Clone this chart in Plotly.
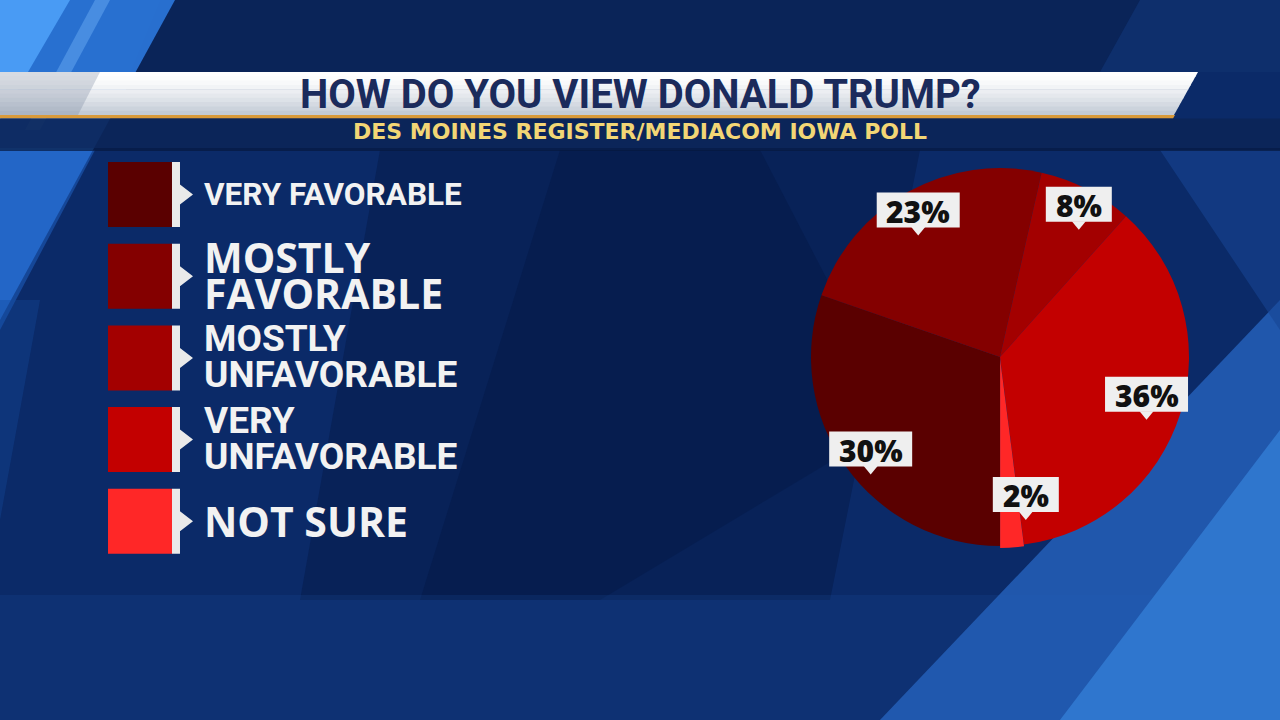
import math
import plotly.graph_objects as go

W, H = 1280, 720

# ---------------- data ----------------
title = "HOW DO YOU VIEW DONALD TRUMP?"
subtitle = "DES MOINES REGISTER/MEDIACOM IOWA POLL"
categories = ["VERY FAVORABLE", "MOSTLY<br>FAVORABLE", "MOSTLY<br>UNFAVORABLE",
              "VERY<br>UNFAVORABLE", "NOT SURE"]
values = [30, 23, 8, 36, 2]
colors = ["#5a0000", "#840000", "#a30000", "#c30000", "#ff2727"]

# ---------------- style ----------------
NARROW = "Roboto, sans-serif"
WIDE = "Open Sans, Roboto, sans-serif"
legend_font = [(NARROW, 31.5), (WIDE, 41), (NARROW, 37), (NARROW, 37), (WIDE, 41)]
label_rfrac = [0.84, 0.89, 0.91, 0.80, 0.74]
label_dang = [0, 0, 0, -3, -7]
PIE_CX, PIE_CY, PIE_R = 1000, 357, 189


def X(px):
    return px / W


def Y(py):
    return 1 - py / H


def poly(pts, color, opacity=1.0, layer="below"):
    path = "M " + " L ".join(f"{X(x):.5f},{Y(y):.5f}" for x, y in pts) + " Z"
    return dict(type="path", xref="paper", yref="paper", path=path,
                fillcolor=color, line=dict(width=0), opacity=opacity, layer=layer)


def ann(x, y, text, size, color, family, xanchor="left", yanchor="middle", weight="bold"):
    return dict(x=X(x), y=Y(y), xref="paper", yref="paper", text=text, showarrow=False,
                xanchor=xanchor, yanchor=yanchor,
                font=dict(size=size, color=color, family=family, weight=weight))


def lerp_color(c1, c2, t):
    a = [int(c1[i:i + 2], 16) for i in (1, 3, 5)]
    b = [int(c2[i:i + 2], 16) for i in (1, 3, 5)]
    return "#" + "".join(f"{round(a[k] + (b[k] - a[k]) * t):02x}" for k in range(3))


shapes = []
# ---- background ----
shapes.append(poly([(0, 0), (W, 0), (W, H), (0, H)], "#0b2a68"))
shapes.append(poly([(160, 0), (W, 0), (W, 72), (130, 72)], "#0a2356", 0.9))
shapes.append(poly([(1140, 0), (W, 0), (W, 72), (1100, 72)], "#123a80", 0.5))
shapes.append(poly([(380, 150), (920, 150), (830, 600), (300, 600)], "#051845", 0.45))
shapes.append(poly([(560, 150), (760, 150), (900, 420), (600, 600), (420, 600)], "#04143c", 0.3))
shapes.append(poly([(0, 0), (175, 0), (0, 320)], "#2a74d6", 0.95))
shapes.append(poly([(0, 0), (70, 0), (0, 120)], "#4da0f7", 0.9))
shapes.append(poly([(95, 0), (110, 0), (40, 130), (25, 130)], "#6fb2f7", 0.45))
shapes.append(poly([(0, 150), (95, 150), (0, 330)], "#1f5fc0", 0.55))
shapes.append(poly([(0, 300), (40, 300), (0, 520)], "#154a9e", 0.35))
shapes.append(poly([(0, 595), (W, 595), (W, H), (0, H)], "#1a4d9c", 0.22))
shapes.append(poly([(W, 300), (W, H), (880, H)], "#2563bd", 0.8))
shapes.append(poly([(W, 430), (W, H), (1060, H)], "#3480d8", 0.75))
shapes.append(poly([(1160, 150), (W, 150), (W, 330)], "#174493", 0.6))

# ---- banner ----
n_strips = 10
y0b, y1b = 72, 115
for i in range(n_strips):
    ya = y0b + (y1b - y0b) * i / n_strips
    yb = y0b + (y1b - y0b) * (i + 1) / n_strips + 0.6
    xa = 1198 - (ya - y0b) * 24 / 43
    xb = 1198 - (yb - y0b) * 24 / 43
    col = lerp_color("#ffffff", "#c3cbd6", (i / (n_strips - 1)) ** 1.4)
    shapes.append(poly([(0, ya), (xa, ya), (xb, yb), (0, yb)], col))
shapes.append(poly([(0, 72), (100, 72), (78, 115), (0, 115)], "#6f7f98", 0.28))
shapes.append(poly([(0, 115), (1175, 115), (1173, 118.5), (0, 118.5)], "#d99a3a"))
shapes.append(poly([(0, 118.5), (W, 118.5), (W, 148), (0, 148)], "#0b2558", 0.9))
shapes.append(poly([(0, 148), (W, 148), (W, 151), (0, 151)], "#06183f", 0.7))

annotations = []
annotations.append(ann(640, 95, title, 40, "#1b2b5c", NARROW, xanchor="center"))
annotations.append(ann(640, 131, subtitle, 22, "#f2d675", "DejaVu Sans, sans-serif",
                       xanchor="center", weight="bold"))

# ---- custom legend ----
row_top0, row_step, sw_h = 162, 81.7, 65
for i, (cat, col) in enumerate(zip(categories, colors)):
    top = row_top0 + i * row_step
    mid = top + sw_h / 2
    shapes.append(poly([(108, top), (172, top), (172, top + sw_h), (108, top + sw_h)], col))
    shapes.append(poly([(172, top), (180, top), (180, mid - 10), (193, mid), (180, mid + 10),
                        (180, top + sw_h), (172, top + sw_h)], "#eaeaea"))
    fam, size = legend_font[i]
    lines = cat.split("<br>")
    if len(lines) == 1:
        annotations.append(ann(202, mid, lines[0], size, "#f2f2f2", fam))
    else:
        annotations.append(ann(202, top + 13, lines[0], size, "#f2f2f2", fam))
        annotations.append(ann(202, top + 49, lines[1], size, "#f2f2f2", fam))

# ---- percentage callouts ----
total = sum(values)
start = 180.0
for i, v in enumerate(values):
    span = 360.0 * v / total
    midang = math.radians(start + span / 2 + label_dang[i])
    start += span
    r = PIE_R * label_rfrac[i]
    cx = PIE_CX + r * math.sin(midang)
    cy = PIE_CY - r * math.cos(midang)
    txt = f"{v}%"
    bw = 17 * len(txt) + 32
    bh = 35
    shapes.append(poly([(cx - bw / 2, cy - bh / 2), (cx + bw / 2, cy - bh / 2),
                        (cx + bw / 2, cy + bh / 2), (cx - bw / 2, cy + bh / 2)],
                       "#efefef", layer="above"))
    shapes.append(poly([(cx - 7, cy + bh / 2 - 0.5), (cx + 7, cy + bh / 2 - 0.5), (cx, cy + bh / 2 + 8)],
                       "#efefef", layer="above"))
    annotations.append(ann(cx, cy + 1, txt, 30, "#111111", WIDE, xanchor="center", weight=800))

pull = [0, 0, 0, 0, 0.01]
R_eff = PIE_R * (1 + max(pull))
fig = go.Figure(go.Pie(
    values=values,
    labels=[c.replace("<br>", " ") for c in categories],
    marker=dict(colors=colors, line=dict(width=0)),
    sort=False, direction="clockwise", rotation=180,
    textinfo="none", hoverinfo="label+value", pull=pull, showlegend=False,
    domain=dict(x=[X(PIE_CX - R_eff), X(PIE_CX + R_eff)],
                y=[Y(PIE_CY + R_eff), Y(PIE_CY - R_eff)]),
))
fig.update_layout(
    width=W, height=H, margin=dict(l=0, r=0, t=0, b=0),
    paper_bgcolor="#0b2a68", plot_bgcolor="rgba(0,0,0,0)",
    shapes=shapes, annotations=annotations, showlegend=False,
)
fig.write_html("out.html")
